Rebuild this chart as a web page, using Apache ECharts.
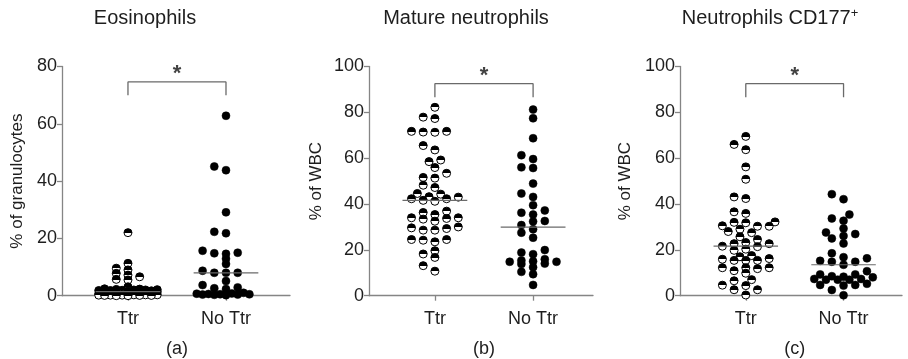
<!DOCTYPE html>
<html>
<head>
<meta charset="utf-8">
<style>
  html, body { margin: 0; padding: 0; background: #fff; }
  #chart { width: 908px; height: 359px; }
</style>
<script src="https://cdn.jsdelivr.net/npm/echarts@6/dist/echarts.min.js"></script>
</head>
<body>
<div id="chart"></div>
<script>
// groups on the x axis
const groups = ['Ttr', 'No Ttr']

// (a) eosinophils, % of granulocytes
const eosTtr = [22.0, 11.3, 9.6, 9.0, 7.8, 7.2, 6.6, 5.7, 5.5, 3.1,
  2.4, 2.3, 2.2, 2.1, 2.0, 2.0, 1.9, 1.8, 1.8, 1.7, 1.6, 1.5, 1.5, 1.4, 1.3, 1.2, 1.1,
  0.7, 0.6, 0.6, 0.5, 0.5, 0.4, 0.4, 0.4, 0.3, 0.3, 0.3, 0.3, 0.2, 0.2, 0.2, 0.1, 0.1, 0.1, 0.0, 0.0]
const eosNoTtr = [62.8, 45.1, 43.8, 29.1, 22.3, 21.8, 15.7, 15.0, 14.8, 14.6, 12.9, 11.1, 8.7, 8.0, 8.0, 8.0,
  5.1, 3.7, 2.9, 2.3, 2.6, 1.0, 0.7, 0.5, 0.3, 0.6, 0.4, 0.2, 0.4, 0.5, 0.8]

// (b) mature neutrophils, % of WBC
const matTtr = [82.2, 77.3, 77.9, 71.3, 71.7, 71.7, 71.4, 65.5, 63.6, 59.2, 58.5, 55.9, 53.4, 51.6, 51.3,
  48.2, 47.2, 44.6, 44.3, 43.2, 43.0, 42.3, 42.3, 41.6, 41.2, 36.3, 33.4, 34.0, 35.4, 32.5, 34.0, 36.9, 33.7,
  29.6, 28.6, 28.6, 29.3, 30.0, 24.5, 24.2, 23.5, 24.5, 19.6, 18.2, 16.7, 13.1, 10.7]
const matNoTtr = [81.2, 77.4, 68.7, 61.3, 59.6, 55.7, 56.0, 48.9, 44.6, 43.1, 39.5, 36.2, 37.2, 35.4, 32.6,
  32.4, 30.8, 29.0, 27.5, 25.3, 19.9, 18.8, 18.1, 15.0, 13.8, 15.9, 15.4, 14.0, 14.8, 14.8, 12.4, 9.4, 10.4, 4.7]

// (c) CD177+ neutrophils, % of WBC
const cdTtr = [69.5, 66.0, 63.7, 56.2, 50.8, 43.1, 42.4, 36.6, 35.9, 32.2, 32.0, 31.8, 30.5, 30.3, 30.3,
  28.0, 29.0, 27.5, 25.7, 24.5, 23.2, 22.7, 22.7, 21.6, 21.4, 20.3, 19.8, 17.5, 17.0, 16.2, 15.9, 15.4, 15.4, 15.4,
  12.2, 12.2, 12.2, 11.8, 10.9, 9.8, 7.0, 6.5, 4.6, 4.4, 2.6, 2.6, 0.3]
const cdNoTtr = [44.3, 42.1, 35.4, 33.7, 32.7, 29.3, 27.6, 26.9, 26.1, 25.0, 22.8, 18.5, 16.8, 16.3, 15.2,
  14.8, 14.8, 13.5, 10.7, 9.3, 7.0, 7.0, 8.0, 8.3, 7.0, 8.5, 9.3, 7.3, 7.3, 4.7, 4.4, 5.2, 4.7, 2.5, 0.2]

const yTicksA = [0, 20, 40, 60, 80]
const yTicksB = [0, 20, 40, 60, 80, 100]

const font = 'Liberation Sans, Arial, sans-serif'
const axisColor = '#858585'
const textColor = '#1e1e1e'
const gridTop = 66.5
const gridHeight = 229.2

const panels = [
  { title: 'Eosinophils', titleX: 145, yName: '% of granulocytes', nameGap: 36, cap: '(a)', ry: 4.5,
    ticks: yTicksA, left: 62, width: 228, xMin: -0.673, xMax: 1.653, data: [eosTtr, eosNoTtr], bracket: [70, 74.6] },
  { title: 'Mature neutrophils', titleX: 466, yName: '% of WBC', nameGap: 44, cap: '(b)', ry: 6.5,
    ticks: yTicksB, left: 369, width: 224, xMin: -0.671, xMax: 1.61, data: [matTtr, matNoTtr], bracket: [86.6, 92.5] },
  { title: 'Neutrophils CD177{sup|+}', titleX: 770, yName: '% of WBC', nameGap: 46, cap: '(c)', ry: 6.5,
    ticks: yTicksB, left: 680, width: 222, xMin: -0.673, xMax: 1.598, data: [cdTtr, cdNoTtr], bracket: [86.6, 92.5] }
]

function median(arr) {
  const s = arr.slice().sort((a, b) => a - b)
  const m = Math.floor(s.length / 2)
  return s.length % 2 ? s[m] : (s[m - 1] + s[m]) / 2
}

// beeswarm on a half-slot grid: wide side spacing, tighter vertical spacing
function swarm(values, pxX, pxY, ry) {
  const rx = 11.7, step = 5.85, maxC = 5
  const order = values.map((v, i) => i).sort((a, b) => values[a] - values[b])
  const cands = [0]
  for (let c = 1; c <= maxC; c++) cands.push(-c, c)
  const placed = []
  const off = new Array(values.length)
  order.forEach(i => {
    const y = values[i] * pxY
    let best = 0, bestGap = -1
    for (const c of cands) {
      const x = c * step
      let minD = Infinity
      placed.forEach(p => {
        const d = Math.hypot((p.x - x) / rx, (p.y - y) / ry)
        if (d < minD) minD = d
      })
      if (minD >= 1) { best = x; break }
      if (minD > bestGap) { bestGap = minD; best = x }
    }
    placed.push({ x: best, y })
    off[i] = best / pxX
  })
  return off
}

const halfFill = new echarts.graphic.LinearGradient(0, 0, 0, 1, [
  { offset: 0, color: '#000' },
  { offset: 0.52, color: '#000' },
  { offset: 0.52, color: '#fff' },
  { offset: 1, color: '#fff' }
])

const grids = [], xAxes = [], yAxes = [], series = [], graphics = []

panels.forEach((p, i) => {
  const yMax = p.ticks[p.ticks.length - 1]
  const pxX = p.width / (p.xMax - p.xMin)
  const pxY = gridHeight / yMax
  grids.push({ left: p.left, top: gridTop, width: p.width, height: gridHeight })
  xAxes.push({
    type: 'value', gridIndex: i, min: p.xMin, max: p.xMax,
    axisLine: { onZero: false, lineStyle: { color: axisColor, width: 1.3 } },
    axisTick: { customValues: [0, 1], length: 5, lineStyle: { color: axisColor, width: 1.3 } },
    axisLabel: { customValues: [0, 1], formatter: v => groups[Math.round(v)], margin: 14,
      fontSize: 18, fontFamily: font, color: textColor },
    splitLine: { show: false }
  })
  yAxes.push({
    type: 'value', gridIndex: i, min: 0, max: yMax, interval: 20,
    name: p.yName, nameLocation: 'middle', nameGap: p.nameGap,
    nameTextStyle: { fontSize: 17, fontFamily: font, color: textColor },
    axisLine: { show: true, onZero: false, lineStyle: { color: axisColor, width: 1.3 } },
    axisTick: { show: true, length: 5, lineStyle: { color: axisColor, width: 1.3 } },
    axisLabel: { margin: 5, fontSize: 18, fontFamily: font, color: textColor },
    splitLine: { show: false }
  })

  p.data.forEach((vals, g) => {
    const off = swarm(vals, pxX, pxY, p.ry)
    series.push({
      type: 'scatter', xAxisIndex: i, yAxisIndex: i, clip: false,
      symbol: 'circle', symbolSize: 8,
      itemStyle: g === 0
        ? { color: halfFill, borderColor: '#000', borderWidth: 1, opacity: 1 }
        : { color: '#000', borderColor: '#000', borderWidth: 0.5, opacity: 1 },
      data: vals.map((v, j) => [g + off[j], v]),
      z: 2
    })
    const m = median(vals)
    series.push({
      type: 'line', xAxisIndex: i, yAxisIndex: i, symbol: 'none', silent: true,
      lineStyle: { color: '#6a6a6a', width: 1.2 },
      data: [[g - 0.33, m], [g + 0.33, m]],
      z: 3
    })
  })

  // significance bracket and star
  series.push({
    type: 'line', xAxisIndex: i, yAxisIndex: i, symbol: 'none', silent: true, clip: false,
    lineStyle: { color: '#6a6a6a', width: 1.3 },
    data: [[0, p.bracket[0]], [0, p.bracket[1]], [1, p.bracket[1]], [1, p.bracket[0]]]
  })
  series.push({
    type: 'scatter', xAxisIndex: i, yAxisIndex: i, clip: false, symbolSize: 1,
    itemStyle: { color: 'rgba(0,0,0,0)' },
    label: { show: true, position: 'inside', formatter: '*', fontSize: 22, fontWeight: 'bold',
      fontFamily: font, color: '#111', offset: [0, 4] },
    data: [[0.5, p.bracket[1] + (i === 0 ? 4.2 : 5.3)]]
  })

  graphics.push({
    type: 'text', x: p.titleX, y: 18,
    style: { text: p.title, font: '20px ' + font, fill: textColor, align: 'center', verticalAlign: 'middle',
      rich: { sup: { fontSize: 13, fontFamily: font, fill: textColor, verticalAlign: 'top', lineHeight: 22, padding: [0, 0, 10, 0] } } }
  })
  graphics.push({
    type: 'text', x: p.left + pxX * (0.5 - p.xMin), y: 349,
    style: { text: p.cap, font: '18px ' + font, fill: textColor, align: 'center', verticalAlign: 'middle' }
  })
})

const chart = echarts.init(document.getElementById('chart'), null, { renderer: 'canvas' })
chart.setOption({
  animation: false,
  grid: grids,
  xAxis: xAxes,
  yAxis: yAxes,
  series: series,
  graphic: graphics
})
</script>
</body>
</html>
